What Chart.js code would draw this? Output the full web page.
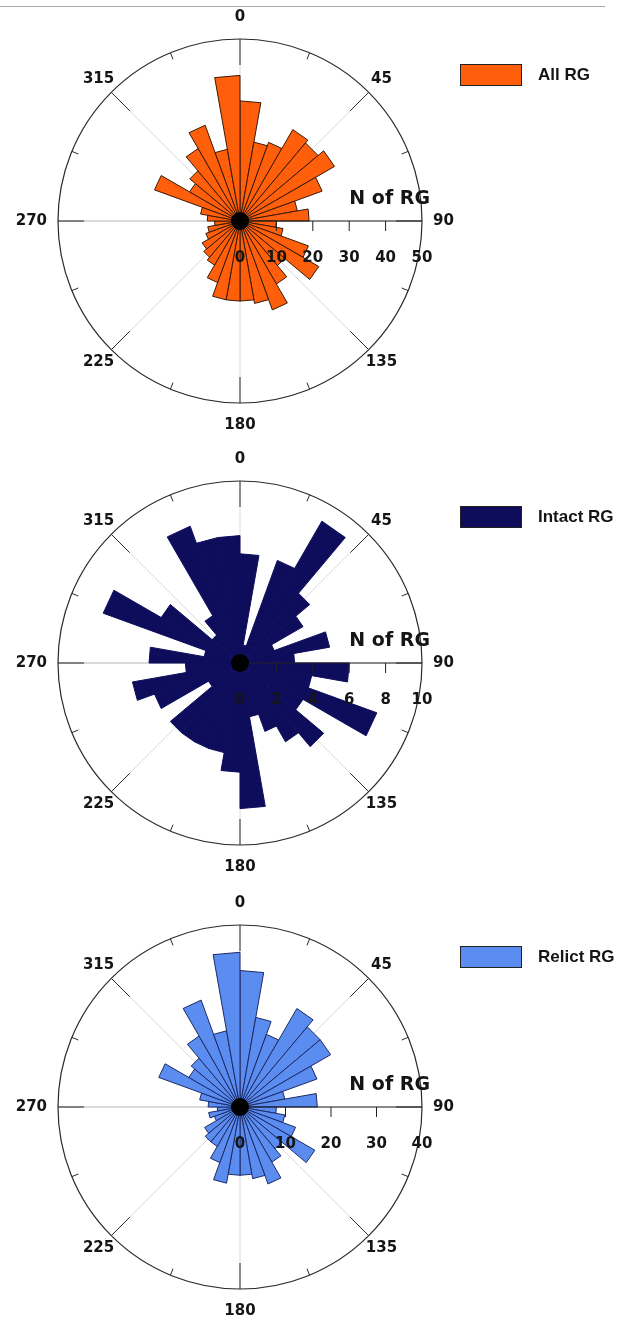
<!DOCTYPE html>
<html>
<head>
<meta charset="utf-8">
<script src="https://cdn.jsdelivr.net/npm/chart.js@4.4.0/dist/chart.umd.min.js"></script>
<style>
  body { margin: 0; background: #fff; }
  #pagina { position: relative; width: 626px; height: 1319px; overflow: hidden; background: #fff; }
  .linha-topo { position: absolute; left: 0; top: 6px; width: 605px; border-top: 1px solid #a8a8a8; }
  .rosa { position: absolute; left: 0; }
  .legenda { position: absolute; left: 460px; height: 22px; display: flex; align-items: center;
             font: bold 17px "Liberation Sans", Arial, sans-serif; color: #151515; }
  .legenda .caixa { width: 60px; height: 20px; border: 1px solid #222; margin-right: 16px; }
</style>
</head>
<body>
<div id="pagina">
  <div class="linha-topo"></div>
  <canvas id="rosaAll" class="rosa" width="626" height="442" style="top:0px"></canvas>
  <canvas id="rosaIntact" class="rosa" width="626" height="442" style="top:442px"></canvas>
  <canvas id="rosaRelict" class="rosa" width="626" height="442" style="top:886px"></canvas>
  <div class="legenda" style="top:64px"><span class="caixa" style="background:#ff5f0a"></span>All RG</div>
  <div class="legenda" style="top:506px"><span class="caixa" style="background:#0d0d5c"></span>Intact RG</div>
  <div class="legenda" style="top:946px"><span class="caixa" style="background:#5b8cf0"></span>Relict RG</div>
</div>
<script>
// 10-degree direction bins, clockwise from north
const binStart = [0, 10, 20, 30, 40, 50, 60, 70, 80, 90, 100, 110, 120, 130, 140, 150, 160, 170,
                  180, 190, 200, 210, 220, 230, 240, 250, 260, 270, 280, 290, 300, 310, 320, 330, 340, 350];

const allRG = [33, 22, 23, 29, 28, 30, 24, 16, 19, 10, 12, 20, 25, 16, 20, 26, 23, 22,
               22, 22, 18, 14, 13, 12, 10, 9, 7, 9, 11, 25, 16, 18, 23, 28, 20, 40];
const intactRG = [6, 1, 6, 9, 5, 4, 2, 5, 3, 6, 4, 8, 4, 6, 5, 4, 3, 8,
                  6, 5, 5, 5, 5, 2, 5, 6, 3, 5, 2, 8, 5, 2, 3, 8, 7, 7];
const relictRG = [30, 20, 17, 25, 23, 23, 18, 10, 17, 8, 10, 13, 19, 12, 14, 18, 16, 15,
                  15, 17, 13, 10, 10, 9, 6, 7, 5, 7, 9, 19, 13, 14, 18, 25, 17, 34];

const compassLabels = [0, 45, 90, 135, 180, 225, 270, 315];
const allTicks = [0, 10, 20, 30, 40, 50];
const intactTicks = [0, 2, 4, 6, 8, 10];
const relictTicks = [0, 10, 20, 30, 40];
const axisTitle = "N of RG";

const FONTE = '"DejaVu Sans", "Liberation Sans", sans-serif';

function ponto(scale, graus, dist) {
  const a = (graus - 90) * Math.PI / 180;
  return { x: scale.xCenter + Math.cos(a) * dist, y: scale.yCenter + Math.sin(a) * dist };
}

function linhaRadial(ctx, scale, graus, de, ate) {
  const p1 = ponto(scale, graus, de);
  const p2 = ponto(scale, graus, ate);
  ctx.beginPath();
  ctx.moveTo(p1.x, p1.y);
  ctx.lineTo(p2.x, p2.y);
  ctx.stroke();
}

// compass grid, ticks, radial axis and labels drawn around the polarArea
const roseDecor = {
  id: "roseDecor",
  beforeDatasetsDraw(chart) {
    const r = chart.scales.r;
    const ctx = chart.ctx;
    const R = r.drawingArea;
    ctx.save();
    ctx.lineWidth = 1;
    compassLabels.forEach(g => {
      ctx.strokeStyle = g === 270 ? "#b4b4b4" : "#dcdcdc";
      linhaRadial(ctx, r, g, 0, R);
    });
    ctx.restore();
  },
  afterDatasetsDraw(chart, args, opts) {
    const r = chart.scales.r;
    const ctx = chart.ctx;
    const R = r.drawingArea;
    const xc = r.xCenter, yc = r.yCenter;
    ctx.save();

    // outer circle
    ctx.strokeStyle = "#2a2a2a";
    ctx.lineWidth = 1.2;
    ctx.beginPath();
    ctx.arc(xc, yc, R, 0, Math.PI * 2);
    ctx.stroke();

    // major and minor ticks on the rim
    ctx.lineWidth = 1;
    compassLabels.forEach(g => {
      linhaRadial(ctx, r, g, R - 26, R);
      linhaRadial(ctx, r, g + 22.5, R - 7, R);
    });

    // radial axis towards 90
    ctx.strokeStyle = "#222";
    linhaRadial(ctx, r, 90, 0, R);

    ctx.fillStyle = "#151515";
    ctx.font = "bold 15px " + FONTE;
    ctx.textAlign = "center";
    ctx.textBaseline = "middle";
    opts.ticks.forEach(v => {
      const d = r.getDistanceFromCenterForValue(v);
      if (v > 0 && d < R - 1) {
        ctx.beginPath();
        ctx.moveTo(xc + d, yc);
        ctx.lineTo(xc + d, yc + 10);
        ctx.stroke();
      }
      ctx.fillText(String(v), xc + d, yc + 37);
    });

    // compass labels
    compassLabels.forEach(g => {
      if (g === 90 || g === 270) {
        const p = ponto(r, g, R + 11);
        ctx.textAlign = g === 90 ? "left" : "right";
        ctx.fillText(String(g), p.x, p.y);
      } else {
        const p = ponto(r, g, g % 180 === 0 ? R + 22 : R + 18);
        ctx.textAlign = "center";
        ctx.fillText(String(g), p.x, p.y);
      }
    });

    // axis title
    ctx.font = "bold 19px " + FONTE;
    ctx.textAlign = "right";
    ctx.textBaseline = "alphabetic";
    ctx.fillText(axisTitle, xc + R + 8, yc - 17);

    // black hub
    ctx.fillStyle = "#000";
    ctx.beginPath();
    ctx.arc(xc, yc, 9, 0, Math.PI * 2);
    ctx.fill();

    ctx.restore();
  }
};

function montarRosa(id, valores, ticks, cor, borda) {
  return new Chart(document.getElementById(id), {
    type: "polarArea",
    data: {
      labels: binStart,
      datasets: [{
        data: valores,
        backgroundColor: cor,
        borderColor: borda,
        borderWidth: 1,
        circular: false
      }]
    },
    options: {
      responsive: false,
      animation: false,
      events: [],
      layout: { padding: { left: 58, right: 204, top: 39, bottom: 39 } },
      plugins: {
        legend: { display: false },
        tooltip: { enabled: false },
        roseDecor: { ticks }
      },
      scales: {
        r: {
          min: ticks[0],
          max: ticks[ticks.length - 1],
          startAngle: 0,
          ticks: { display: false, stepSize: ticks[1] - ticks[0] },
          grid: { display: false },
          angleLines: { display: false },
          pointLabels: { display: false }
        }
      }
    },
    plugins: [roseDecor]
  });
}

montarRosa("rosaAll", allRG, allTicks, "#ff5f0a", "#3a1805");
montarRosa("rosaIntact", intactRG, intactTicks, "#0d0d5c", "#0d0d5c");
montarRosa("rosaRelict", relictRG, relictTicks, "#5b8cf0", "#1c2a66");
</script>
</body>
</html>
